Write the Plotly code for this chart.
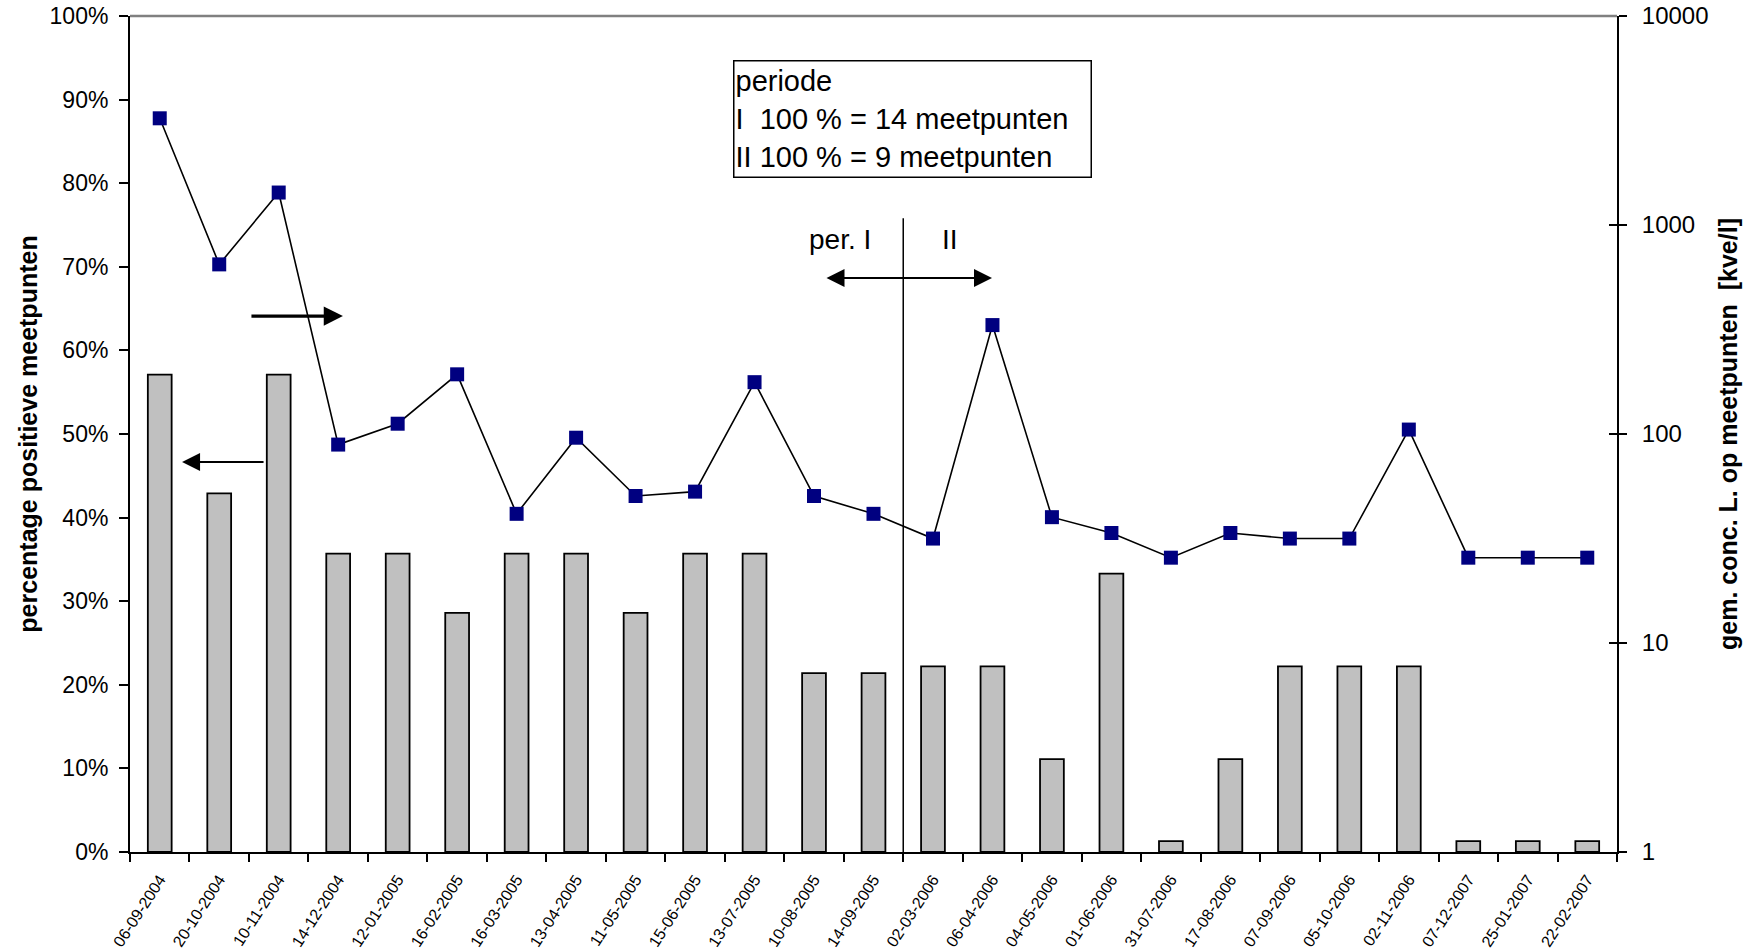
import plotly.graph_objects as go

dates = ["06-09-2004", "20-10-2004", "10-11-2004", "14-12-2004", "12-01-2005",
         "16-02-2005", "16-03-2005", "13-04-2005", "11-05-2005", "15-06-2005",
         "13-07-2005", "10-08-2005", "14-09-2005", "02-03-2006", "06-04-2006",
         "04-05-2006", "01-06-2006", "31-07-2006", "17-08-2006", "07-09-2006",
         "05-10-2006", "02-11-2006", "07-12-2007", "25-01-2007", "22-02-2007"]

pct_positive = [57.1, 42.9, 57.1, 35.7, 35.7, 28.6, 35.7, 35.7, 28.6, 35.7,
                35.7, 21.4, 21.4, 22.2, 22.2, 11.1, 33.3, 1.3, 11.1, 22.2,
                22.2, 22.2, 1.3, 1.3, 1.3]

mean_conc = [3240, 648, 1430, 89, 112, 193, 41.5, 96, 50.5, 53,
             177, 50.5, 41.5, 31.6, 332, 40, 33.6, 25.6, 33.6, 31.6,
             31.6, 105, 25.6, 25.6, 25.6]

pct_ticks = [0, 10, 20, 30, 40, 50, 60, 70, 80, 90, 100]
pct_labels = [f"{v}%" for v in pct_ticks]
conc_ticks = [1, 10, 100, 1000, 10000]
conc_labels = [str(v) for v in conc_ticks]

FONT = "Arial, 'Liberation Sans', sans-serif"

fig = go.Figure()
fig.add_trace(go.Bar(
    x=dates, y=pct_positive, width=0.4,
    marker=dict(color="#C0C0C0", line=dict(color="black", width=1.8)),
    yaxis="y", showlegend=False))
fig.add_trace(go.Scatter(
    x=dates, y=mean_conc, mode="lines+markers", yaxis="y2",
    line=dict(color="black", width=1.6),
    marker=dict(symbol="square", size=14, color="#000080",
                line=dict(color="#000080", width=0)),
    showlegend=False))
# invisible trace to activate yaxis3 (inner half of right-axis ticks)
fig.add_trace(go.Scatter(x=[dates[0]], y=[1], yaxis="y3", mode="markers",
                         marker=dict(opacity=0), hoverinfo="skip",
                         showlegend=False))

fig.update_layout(
    width=1753, height=951,
    margin=dict(l=130, r=136, t=16, b=99, autoexpand=False),
    paper_bgcolor="white", plot_bgcolor="white",
    font=dict(family=FONT, color="black", size=22),
    xaxis=dict(type="category", range=[-0.5, len(dates) - 0.5],
               tickson="boundaries", ticks="outside", ticklen=8,
               tickwidth=2, tickcolor="black",
               showline=True, linecolor="black", linewidth=2,
               tickangle=-57, tickfont=dict(size=16),
               ticklabelstandoff=10, automargin=False,
               showgrid=False, zeroline=False),
    yaxis=dict(range=[0, 100], tickvals=pct_ticks, ticktext=pct_labels,
               ticks="outside", ticklen=9, tickwidth=2, tickcolor="black",
               showline=True, linecolor="black", linewidth=2,
               showgrid=False, zeroline=False, automargin=False,
               tickfont=dict(size=23), ticklabelstandoff=6,
               title=dict(text="<b>percentage positieve meetpunten</b>",
                          font=dict(size=25), standoff=5)),
    yaxis2=dict(type="log", range=[0, 4], tickvals=conc_ticks,
                ticktext=conc_labels,
                overlaying="y", side="right",
                ticks="outside", ticklen=8, tickwidth=2, tickcolor="black",
                showline=True, linecolor="black", linewidth=2,
                showgrid=False, zeroline=False, automargin=False,
                tickfont=dict(size=24), ticklabelstandoff=10,
                title=dict(text="<b>gem. conc. L. op meetpunten  [kve/l]</b>",
                           font=dict(size=25), standoff=12)),
    yaxis3=dict(type="log", range=[0, 4], tickvals=conc_ticks,
                overlaying="y", side="right", anchor="x",
                ticks="inside", ticklen=8, tickwidth=2, tickcolor="black",
                showticklabels=False, showline=False, automargin=False,
                showgrid=False, zeroline=False),
)

# gray top border
fig.add_shape(type="line", xref="paper", yref="paper", x0=0, x1=1, y0=1, y1=1,
              line=dict(color="#808080", width=2.5))

# period divider line (boundary between 14-09-2005 and 02-03-2006)
fig.add_shape(type="line", xref="x", yref="paper", x0=12.5, x1=12.5,
              y0=0, y1=0.758, line=dict(color="black", width=1.5))

# info box
fig.add_annotation(xref="paper", yref="paper", x=0.4055, y=0.947,
                   xanchor="left", yanchor="top", showarrow=False,
                   text="periode<br>I  100 % = 14 meetpunten<br>II 100 % = 9 meetpunten",
                   align="left", font=dict(size=29), bordercolor="black",
                   borderwidth=1.5, borderpad=1, width=354, height=113,
                   valign="middle", bgcolor="white")

# period labels
fig.add_annotation(xref="paper", yref="paper", x=0.4775, y=0.753,
                   text="per. I", showarrow=False, font=dict(size=28))
fig.add_annotation(xref="paper", yref="paper", x=0.5514, y=0.753,
                   text="II", showarrow=False, font=dict(size=28))

# double arrow
fig.add_annotation(xref="paper", yref="paper", x=0.5797, y=0.6866,
                   ax=-167, ay=0, axref="pixel", ayref="pixel", text="",
                   showarrow=True, arrowhead=2, startarrowhead=2,
                   arrowside="end+start", arrowwidth=1.8, arrowsize=2.0,
                   startarrowsize=2.0, arrowcolor="black")

# right-pointing arrow (line -> right axis)
fig.add_annotation(xref="paper", yref="paper", x=0.1432, y=0.6411,
                   ax=-93, ay=0, text="", showarrow=True, arrowhead=2,
                   arrowwidth=3.2, arrowsize=1.2, arrowcolor="black")

# left-pointing arrow (bars -> left axis)
fig.add_annotation(xref="paper", yref="paper", x=0.035, y=0.4665,
                   ax=83, ay=0, text="", showarrow=True, arrowhead=2,
                   arrowwidth=1.8, arrowsize=2.0, arrowcolor="black")

fig.write_html("out.html",
               config={"displayModeBar": False},
               post_script="document.body.style.margin='0';"
                           "document.body.style.overflow='hidden';")
